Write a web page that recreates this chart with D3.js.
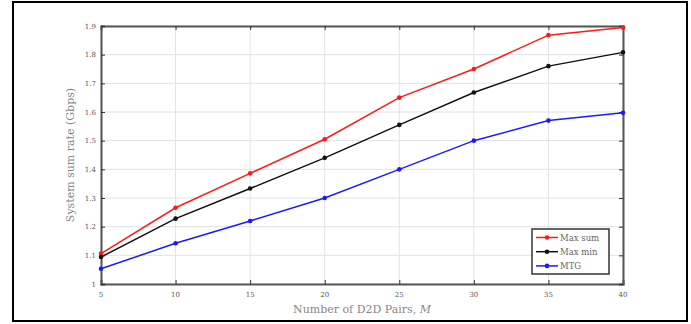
<!DOCTYPE html>
<html lang="en">
<head>
<meta charset="UTF-8">
<title>System sum rate vs D2D pairs</title>
<script src="https://d3js.org/d3.v7.min.js"></script>
<style>
    body { margin: 0; background: #fff; }
    svg { display: block; }
    .tick-label { font-family: "DejaVu Serif", serif; font-size: 7px; fill: #555; }
    .axis-label { font-family: "DejaVu Serif", serif; font-size: 11px; fill: #888; }
    .legend-text { font-family: "DejaVu Serif", serif; font-size: 8.5px; fill: #666; }
</style>
</head>
<body>
<svg width="691" height="324"></svg>
<script>
    const pairs = [5, 10, 15, 20, 25, 30, 35, 40];
    const maxSum = [1.106, 1.266, 1.386, 1.505, 1.65, 1.75, 1.868, 1.895];
    const maxMin = [1.094, 1.228, 1.333, 1.44, 1.555, 1.668, 1.76, 1.808];
    const mtg = [1.053, 1.142, 1.22, 1.30, 1.40, 1.50, 1.57, 1.597];
    const yTicks = [1, 1.1, 1.2, 1.3, 1.4, 1.5, 1.6, 1.7, 1.8, 1.9];
    const yTickLabels = ["1", "1.1", "1.2", "1.3", "1.4", "1.5", "1.6", "1.7", "1.8", "1.9"];

    const series = [
        { name: "Max sum", color: "#ff1a1a", values: maxSum },
        { name: "Max min", color: "#111", values: maxMin },
        { name: "MTG", color: "#1a1aff", values: mtg }
    ];

    const svg = d3.select("svg");

    // outer frame
    svg.append("rect")
        .attr("x", 13).attr("y", 2)
        .attr("width", 674).attr("height", 319)
        .attr("fill", "none").attr("stroke", "#000").attr("stroke-width", 2);

    const pLeft = 101, pRight = 623, pTop = 26, pBottom = 284;
    const x = d3.scaleLinear().domain([5, 40]).range([pLeft, pRight]);
    const y = d3.scaleLinear().domain([1, 1.9]).range([pBottom, pTop]);

    const g = svg.append("g");

    // grid
    g.selectAll(".vgrid").data(pairs).enter().append("line")
        .attr("x1", d => x(d)).attr("x2", d => x(d))
        .attr("y1", pTop).attr("y2", pBottom)
        .attr("stroke", "#e2e2e2").attr("stroke-width", 1);
    g.selectAll(".hgrid").data(yTicks).enter().append("line")
        .attr("x1", pLeft).attr("x2", pRight)
        .attr("y1", d => y(d)).attr("y2", d => y(d))
        .attr("stroke", "#e2e2e2").attr("stroke-width", 1);

    // axes with inward ticks
    const xAxisB = d3.axisBottom(x).tickValues(pairs).tickSize(-4).tickFormat("");
    const xAxisT = d3.axisTop(x).tickValues(pairs).tickSize(-4).tickFormat("");
    const yAxisL = d3.axisLeft(y).tickValues(yTicks).tickSize(-4).tickFormat("");
    const yAxisR = d3.axisRight(y).tickValues(yTicks).tickSize(-4).tickFormat("");
    [[xAxisB, `translate(0,${pBottom})`], [xAxisT, `translate(0,${pTop})`],
     [yAxisL, `translate(${pLeft},0)`], [yAxisR, `translate(${pRight},0)`]].forEach(([ax, tr]) => {
        const a = g.append("g").attr("transform", tr).call(ax);
        a.select(".domain").attr("stroke", "#555").attr("stroke-width", 2);
        a.selectAll(".tick line").attr("stroke", "#333").attr("stroke-width", 1);
    });

    // tick labels
    g.selectAll(".xl").data(pairs).enter().append("text")
        .attr("class", "tick-label")
        .attr("x", d => x(d)).attr("y", pBottom + 13)
        .attr("text-anchor", "middle")
        .text(d => d);
    g.selectAll(".yl").data(yTicks).enter().append("text")
        .attr("class", "tick-label")
        .attr("x", pLeft - 5).attr("y", d => y(d) + 2.5)
        .attr("text-anchor", "end")
        .text((d, i) => yTickLabels[i]);

    // axis titles
    svg.append("text").attr("class", "axis-label")
        .attr("x", 362).attr("y", 313)
        .attr("text-anchor", "middle")
        .html('Number of D2D Pairs, <tspan font-style="italic">M</tspan>');
    svg.append("text").attr("class", "axis-label")
        .attr("transform", `translate(74,${(pTop + pBottom) / 2}) rotate(-90)`)
        .attr("text-anchor", "middle")
        .text("System sum rate (Gbps)");

    // lines
    const line = d3.line().x((d, i) => x(pairs[i])).y(d => y(d));
    series.forEach(s => {
        g.append("path").datum(s.values)
            .attr("d", line)
            .attr("fill", "none").attr("stroke", s.color).attr("stroke-width", 1.5);
        g.selectAll(null).data(s.values).enter().append("circle")
            .attr("cx", (d, i) => x(pairs[i])).attr("cy", d => y(d))
            .attr("r", 2.3).attr("fill", s.color);
    });

    // legend
    const lg = svg.append("g");
    lg.append("rect")
        .attr("x", 532).attr("y", 229).attr("width", 77).attr("height", 45)
        .attr("fill", "#fff").attr("stroke", "#333").attr("stroke-width", 1.5);
    series.forEach((s, i) => {
        const yy = 237.5 + i * 14.2;
        lg.append("line").attr("x1", 536).attr("x2", 558).attr("y1", yy).attr("y2", yy)
            .attr("stroke", s.color).attr("stroke-width", 1.5);
        lg.append("circle").attr("cx", 547).attr("cy", yy).attr("r", 2.3).attr("fill", s.color);
        lg.append("text").attr("class", "legend-text")
            .attr("x", 560).attr("y", yy + 3)
            .text(s.name);
    });
</script>
</body>
</html>
